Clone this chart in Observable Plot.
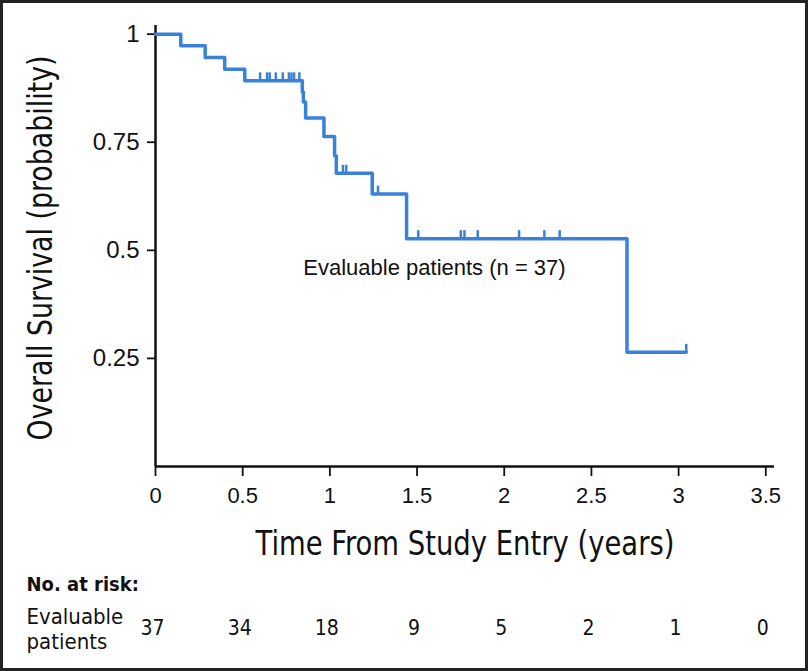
<!DOCTYPE html>
<html>
<head>
<meta charset="utf-8">
<script src="https://cdn.jsdelivr.net/npm/d3@7"></script>
<script src="https://cdn.jsdelivr.net/npm/@observablehq/plot@0.6"></script>
<style>
  html, body { margin: 0; padding: 0; background: #fff; }
  #wrap { position: relative; width: 808px; height: 671px; overflow: hidden; }
  #border { position: absolute; left: 0; top: 0; width: 808px; height: 671px; box-sizing: border-box;
            border: 3px solid #222; pointer-events: none; }
</style>
</head>
<body>
<div id="wrap"><div id="border"></div></div>
<script>
// Kaplan–Meier step points (time in years, survival probability)
const stepTimes = [0, 0.145, 0.285, 0.397, 0.512, 0.842, 0.848, 0.861, 0.966, 1.027, 1.037, 1.243, 1.44, 2.704, 3.044];
const stepSurv  = [1, 0.973, 0.946, 0.919, 0.892, 0.866, 0.843, 0.806, 0.763, 0.719, 0.678, 0.630, 0.527, 0.264, 0.264];

// Censoring times
const censorTimes = [0.60, 0.64, 0.655, 0.69, 0.73, 0.765, 0.78, 0.795, 0.825, 1.075, 1.094, 1.276, 1.507, 1.751, 1.772, 1.848, 2.085, 2.23, 2.318, 3.044];

// Axis ticks
const xTicks = [0, 0.5, 1, 1.5, 2, 2.5, 3, 3.5];
const yTicks = [0.25, 0.5, 0.75, 1];

// Number at risk
const riskTimes = [0, 0.5, 1, 1.5, 2, 2.5, 3, 3.5];
const riskCounts = [37, 34, 18, 9, 5, 2, 1, 0];

const curveLabel = "Evaluable patients (n = 37)";
const groupName = "Evaluable\npatients";
const xTitle = "Time From Study Entry (years)";
const yTitle = "Overall Survival (probability)";

const blue = "#3a82d8";
const ink = "#111";
const condFont = "'Liberation Sans Narrow', 'DejaVu Sans Condensed', 'Arial Narrow', sans-serif";
const regFont = "'Liberation Sans', Arial, Helvetica, sans-serif";

const steps = stepTimes.map((t, i) => ({t, s: stepSurv[i]}));
const survAt = t => { let s = 1; for (const p of steps) { if (p.t <= t) s = p.s; } return s; };
const censors = censorTimes.map(t => ({t, s: survAt(t)}));
const risk = riskTimes.map((t, i) => ({t, n: riskCounts[i]}));

const chart = Plot.plot({
  width: 808,
  height: 671,
  marginLeft: 155,
  marginRight: 34,
  marginTop: 25,
  marginBottom: 205,
  style: {fontFamily: regFont, fontSize: "21px", background: "transparent", overflow: "visible"},
  x: {domain: [0, 3.55]},
  y: {domain: [0, 1.02]},
  marks: [
    Plot.ruleX([0], {y1: 0, y2: 1.02, stroke: ink, strokeWidth: 2.5}),
    Plot.ruleY([0], {x1: 0, x2: 3.55, stroke: ink, strokeWidth: 2.5}),
    Plot.axisX({ticks: xTicks, tickFormat: d => String(d), tickSize: 10, tickPadding: 11, fontSize: 22, stroke: ink, strokeWidth: 1.8, fill: ink, label: null}),
    Plot.axisY({ticks: yTicks, tickFormat: d => String(d), tickSize: 8, tickPadding: 8, fontSize: 24, stroke: ink, strokeWidth: 1.8, fill: ink, label: null}),
    Plot.line(steps, {x: "t", y: "s", curve: "step-after", stroke: blue, strokeWidth: 3.5}),
    Plot.ruleX(censors, {x: "t", y1: "s", y2: "s", insetTop: -8, stroke: blue, strokeWidth: 2.5}),
    Plot.text([curveLabel], {x: 1.6, y: 0.46, text: d => d, fontSize: 22, fill: ink}),
    // axis titles
    Plot.text([xTitle], {frameAnchor: "bottom", dy: 78, lineAnchor: "middle", textAnchor: "middle", text: d => d, fontSize: 34, fontFamily: condFont, fill: ink}),
    Plot.text([yTitle], {frameAnchor: "left", dx: -114, dy: 2, rotate: -90, lineAnchor: "middle", textAnchor: "middle", text: d => d, fontSize: 34, fontFamily: condFont, fill: ink}),
    // risk table
    Plot.text(["No. at risk:"], {frameAnchor: "bottom-left", dx: -129, dy: 118, lineAnchor: "middle", textAnchor: "start", text: d => d, fontSize: 20, fontWeight: "bold", fontFamily: condFont, fill: ink}),
    Plot.text([groupName], {frameAnchor: "bottom-left", dx: -129, dy: 162, lineAnchor: "middle", textAnchor: "start", lineHeight: 1.15, text: d => d, fontSize: 22, fontFamily: condFont, fill: ink}),
    Plot.text(risk, {x: "t", frameAnchor: "bottom", dx: -3, dy: 162, lineAnchor: "middle", text: d => String(d.n), fontSize: 21, fontFamily: condFont, fill: ink})
  ]
});
document.getElementById("wrap").prepend(chart);

// compress the condensed axis titles to the reference's widths
const fitText = (label, len) => {
  chart.querySelectorAll("text").forEach(el => {
    if (el.textContent === label) {
      const w = el.getComputedTextLength();
      if (w > 0) {
        const k = len / w;
        const tr = el.getAttribute("transform") || "";
        el.setAttribute("transform", (tr + " scale(" + k + ",1)").trim());
        const x = +el.getAttribute("x") || 0;
        if (x) el.setAttribute("x", x / k);
      }
    }
  });
};
fitText(xTitle, 419);
fitText(yTitle, 385);
</script>
</body>
</html>
